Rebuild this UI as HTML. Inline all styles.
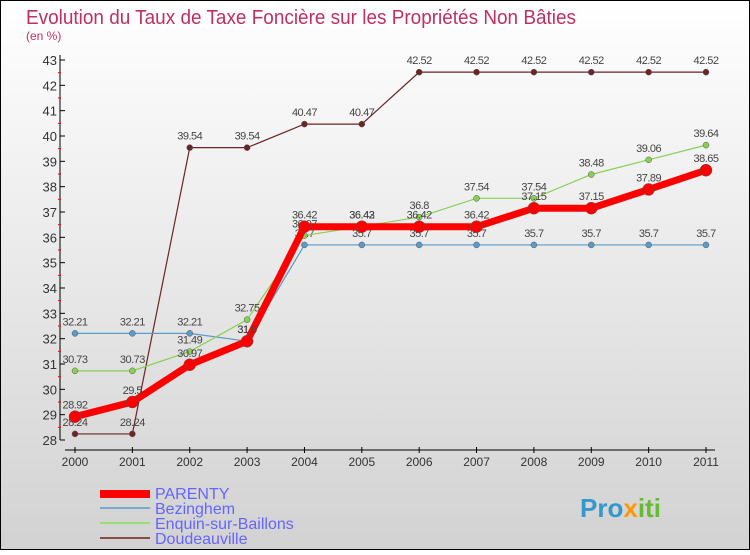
<!DOCTYPE html>
<html><head><meta charset="utf-8"><style>
body{margin:0;width:750px;height:550px;overflow:hidden;font-family:"Liberation Sans",sans-serif}
</style></head><body>
<svg id="chart" width="750" height="550" xmlns="http://www.w3.org/2000/svg">
<defs><linearGradient id="bg" x1="0" y1="0" x2="0" y2="1"><stop offset="0" stop-color="#ffffff"/><stop offset="1" stop-color="#d2d2d2"/></linearGradient></defs>
<rect x="0.5" y="0.5" width="749" height="549" fill="url(#bg)" stroke="#000"/>
<text x="26" y="24" font-size="20" fill="#c0305f" textLength="550" lengthAdjust="spacingAndGlyphs">Evolution du Taux de Taxe Foncière sur les Propriétés Non Bâties</text>
<text x="26" y="40" font-size="12" fill="#c0305f">(en %)</text>
<g id="axes"></g><g id="series"></g>
<g>
<rect x="100" y="490" width="50" height="8" fill="#f00"/>
<text x="155" y="499" font-size="16" fill="#6464ff">PARENTY</text>
<line x1="100" y1="508" x2="150" y2="508" stroke="#7aabcf" stroke-width="2"/>
<text x="155" y="514" font-size="16" fill="#6464ff">Bezinghem</text>
<line x1="100" y1="523" x2="150" y2="523" stroke="#99dd77" stroke-width="2"/>
<text x="155" y="529" font-size="16" fill="#6464ff">Enquin-sur-Baillons</text>
<line x1="100" y1="538" x2="150" y2="538" stroke="#8a4a4a" stroke-width="2"/>
<text x="155" y="544" font-size="16" fill="#6464ff">Doudeauville</text>
</g>
<text x="580" y="517" font-size="26" font-weight="bold" fill="#3399cc">Pro<tspan fill="#ff9900">x</tspan><tspan fill="#66bb33">iti</tspan></text>
</svg>
<script>
const years=["2000","2001","2002","2003","2004","2005","2006","2007","2008","2009","2010","2011"];
const yTicks=[28,29,30,31,32,33,34,35,36,37,38,39,40,41,42,43];
const parenty=[28.92,29.5,30.97,31.9,36.42,36.42,36.42,36.42,37.15,37.15,37.89,38.65];
const bezinghem=[32.21,32.21,32.21,31.9,35.7,35.7,35.7,35.7,35.7,35.7,35.7,35.7];
const enquin=[30.73,30.73,31.49,32.75,36.07,36.43,36.8,37.54,37.54,38.48,39.06,39.64];
const doudeauville=[28.24,28.24,39.54,39.54,40.47,40.47,42.52,42.52,42.52,42.52,42.52,42.52];
const NS="http://www.w3.org/2000/svg";
const x=i=>75+i*(631/11), y=v=>440-(v-28)*(380/15);
function mk(t,a,p){const e=document.createElementNS(NS,t);for(const k in a)e.setAttribute(k,a[k]);p.appendChild(e);return e;}
const ax=document.getElementById('axes');
mk('line',{x1:60,y1:55,x2:60,y2:440,stroke:'#000'},ax);
mk('line',{x1:65,y1:450,x2:715,y2:450,stroke:'#000'},ax);
yTicks.forEach(v=>{mk('line',{x1:60,y1:y(v),x2:65,y2:y(v),stroke:'#000'},ax);
if(v<43)mk('line',{x1:58,y1:y(v+0.5),x2:61,y2:y(v+0.5),stroke:'#f00'},ax);
const t=mk('text',{x:57,y:y(v)+5,'text-anchor':'end','font-size':13,fill:'#333'},ax);t.textContent=v;

});
years.forEach((yr,i)=>{mk('line',{x1:x(i),y1:447,x2:x(i),y2:453,stroke:'#000'},ax);
const t=mk('text',{x:x(i),y:466,'text-anchor':'middle','font-size':12,fill:'#333'},ax);t.textContent=yr;

});
const sg=document.getElementById('series');
function series(name,vals,col,w,r){const g=mk('g',{},sg);


mk('polyline',{points:vals.map((v,i)=>x(i)+','+y(v)).join(' '),fill:'none',stroke:col,'stroke-width':w},g);
vals.forEach((v,i)=>{const c=mk('circle',{cx:x(i),cy:y(v),r:r,fill:col,stroke:'#555','stroke-width':0.5},g);


const t=mk('text',{x:x(i),y:y(v)-8,'text-anchor':'middle','font-size':11,fill:'#444','letter-spacing':'-0.5'},g);t.textContent=v;});}
series('doudeauville-series',doudeauville,'#6b2525',1.2,3);
series('bezinghem-series',bezinghem,'#5b9bc8',1.2,3);
series('enquin-series',enquin,'#88d055',1.2,3);
series('parenty-series',parenty,'#f00',7,6);
</script>
</body></html>
